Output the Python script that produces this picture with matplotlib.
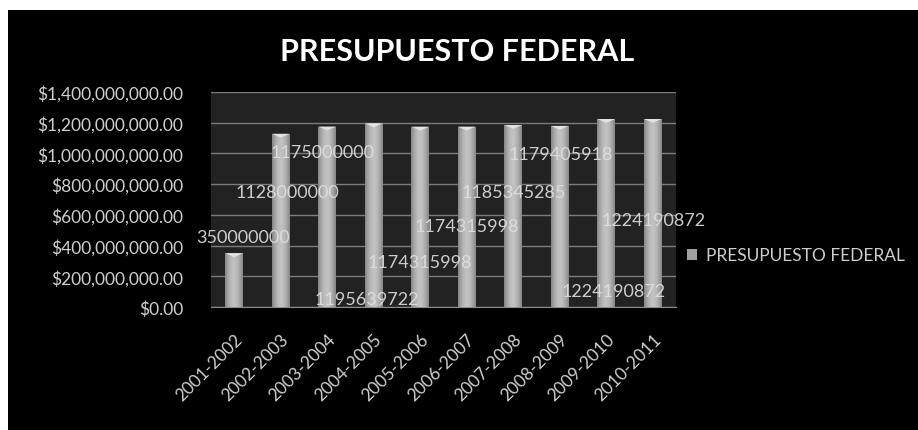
import numpy as np
import matplotlib.pyplot as plt
from matplotlib.patches import Rectangle
from matplotlib.ticker import FuncFormatter

# datos de la grafica
periodos = ['2001-2002', '2002-2003', '2003-2004', '2004-2005', '2005-2006',
            '2006-2007', '2007-2008', '2008-2009', '2009-2010', '2010-2011']
presupuesto = [350000000, 1128000000, 1175000000, 1195639722, 1174315998,
               1174315998, 1185345285, 1179405918, 1224190872, 1224190872]
serie = 'PRESUPUESTO FEDERAL'

# posicion de las etiquetas de datos (en la imagen original estan desplazadas)
etq_x = [0.19, 1.14, 1.89, 2.84, 4.0, 5.01, 6.0, 7.01, 8.15, 9.01]
etq_y = [456e6, 749e6, 1009e6, 52e6, 293e6, 527e6, 749e6, 996e6, 104e6, 566e6]

plt.rcParams['font.family'] = ['Lato', 'DejaVu Sans']
gris = '#cfcfcf'

fig = plt.figure(figsize=(9.18, 4.31), dpi=100, facecolor='white')
# panel negro de fondo
fig.patches.append(Rectangle((8 / 918, 0), 1, 1 - 11 / 431, transform=fig.transFigure,
                             facecolor='black', edgecolor='none', zorder=-1))

ax = fig.add_axes([211 / 918, 1 - 308 / 431, 465 / 918, 215 / 431])
ax.set_facecolor('#222222')
x = np.arange(len(periodos))
barras = ax.bar(x, presupuesto, width=0.38, color='#a0a0a0', zorder=3, label=serie)

# degradado tipo cilindro
grad = np.abs(np.linspace(-1, 1, 64))
grad = (0.76 - 0.24 * grad ** 1.8).reshape(1, -1)
for b in barras:
    x0, w, h = b.get_x(), b.get_width(), b.get_height()
    im = ax.imshow(grad, cmap='gray', vmin=0, vmax=1, aspect='auto',
                   extent=[x0, x0 + w, 0, h], zorder=3.5)
    im.set_clip_path(b)
    # tapa superior clara
    ax.fill([x0, x0 + w, x0 + w / 2], [h, h, h - 2.5e7], color='#e2e2e2', zorder=4, lw=0)

ax.set_xlim(-0.5, 9.5)
ax.set_ylim(0, 1.4e9)
ax.set_yticks(np.arange(0, 1.41e9, 2e8))
ax.yaxis.set_major_formatter(FuncFormatter(lambda v, p: '${:,.2f}'.format(v)))
ax.set_xticks(x)
ax.set_xticklabels(periodos, rotation=45, ha='right', va='top', rotation_mode='anchor')
ax.tick_params(axis='both', length=0, colors=gris, labelsize=12.5)
ax.tick_params(axis='y', pad=20)
ax.tick_params(axis='x', pad=17)
ax.grid(axis='y', color='#7c7c7c', lw=1, zorder=1)
for s in ['left', 'right', 'top']:
    ax.spines[s].set_visible(False)
ax.spines['bottom'].set_color('#8c8c8c')

for xi, yi, v in zip(etq_x, etq_y, presupuesto):
    ax.text(xi, yi, str(v), ha='center', va='center', color='#e0e0e0',
            fontsize=13, zorder=5, alpha=0.9)

fig.text(457 / 918, 1 - 52 / 431, 'PRESUPUESTO FEDERAL', ha='center', va='center',
         color='white', fontsize=22, fontweight='bold')

leg = ax.legend(loc='center left', bbox_to_anchor=(0.99, 0.24), frameon=False,
                fontsize=12.5, handlelength=0.6, handleheight=0.6, handletextpad=0.5,
                labelcolor=gris)

fig.savefig('out.png', dpi=100, facecolor=fig.get_facecolor())
